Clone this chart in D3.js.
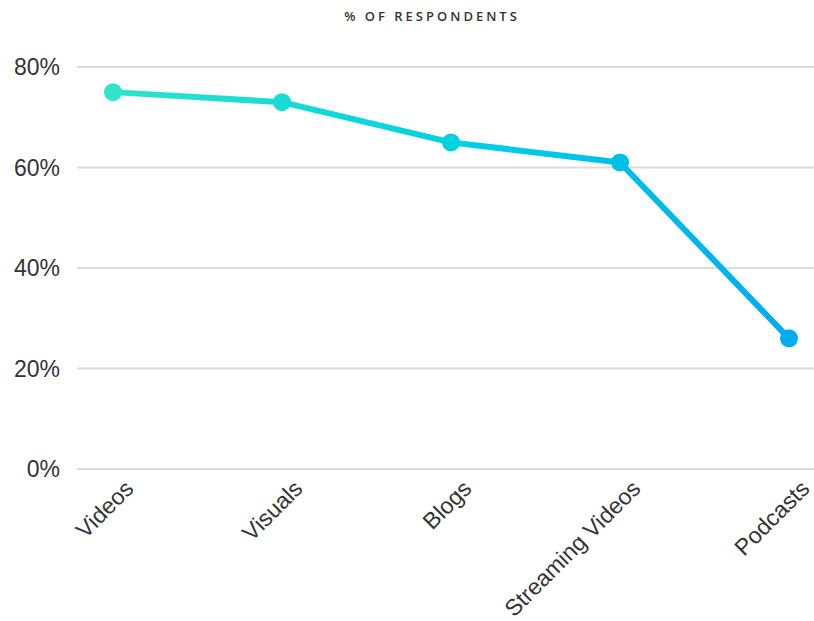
<!DOCTYPE html>
<html lang="en">
<head>
    <meta charset="UTF-8" />
    <title>% of respondents</title>
    <script src="https://d3js.org/d3.v7.min.js"></script>
    <style>
        body { margin: 0; background: #fff; }
        .title { font-family: "Open Sans", sans-serif; font-size: 13px; font-weight: 600; letter-spacing: 3px; fill: #333; }
        .tick-label { font-family: "Liberation Sans", Arial, sans-serif; font-size: 23px; fill: #333; }
    </style>
</head>
<body>
    <script>
        // data
        var categories = ["Videos", "Visuals", "Blogs", "Streaming Videos", "Podcasts"];
        var values = [75, 73, 65, 61, 26];
        var yTicks = [0, 20, 40, 60, 80];

        var w = 814;
        var h = 621;

        var svg = d3.select("body")
            .append("svg")
            .attr("width", w)
            .attr("height", h);

        var xScale = d3.scalePoint()
            .domain(categories)
            .range([113, 789]);

        var yScale = d3.scaleLinear()
            .domain([0, 80])
            .range([469, 67]);

        // colour runs from turquoise to blue across the categories
        var color = d3.scaleLinear()
            .domain([113, 451, 789])
            .range(["#30e3cb", "#00d2e2", "#00acf0"]);

        var defs = svg.append("defs");
        var grad = defs.append("linearGradient")
            .attr("id", "lineGrad")
            .attr("gradientUnits", "userSpaceOnUse")
            .attr("x1", 113).attr("x2", 789)
            .attr("y1", 0).attr("y2", 0);
        grad.append("stop").attr("offset", "0%").attr("stop-color", "#30e3cb");
        grad.append("stop").attr("offset", "50%").attr("stop-color", "#00d2e2");
        grad.append("stop").attr("offset", "100%").attr("stop-color", "#00acf0");

        // title
        svg.append("text")
            .attr("class", "title")
            .attr("x", 432)
            .attr("y", 21)
            .attr("text-anchor", "middle")
            .text("% OF RESPONDENTS");

        // gridlines
        svg.selectAll(".grid")
            .data(yTicks)
            .enter()
            .append("line")
            .attr("class", "grid")
            .attr("x1", 77)
            .attr("x2", w)
            .attr("y1", function (d) { return yScale(d); })
            .attr("y2", function (d) { return yScale(d); })
            .attr("stroke", "#dcdcdc")
            .attr("stroke-width", 2);

        // y labels
        svg.selectAll(".ylab")
            .data(yTicks)
            .enter()
            .append("text")
            .attr("class", "tick-label")
            .attr("x", 60)
            .attr("y", function (d) { return yScale(d); })
            .attr("dy", "0.35em")
            .attr("text-anchor", "end")
            .text(function (d) { return d + "%"; });

        // x labels, rotated
        svg.selectAll(".xlab")
            .data(categories)
            .enter()
            .append("text")
            .attr("class", "tick-label")
            .attr("text-anchor", "end")
            .attr("transform", function (d) {
                return "translate(" + (xScale(d) + 22) + ",490) rotate(-45)";
            })
            .text(function (d) { return d; });

        // line
        var pts = categories.map(function (c, i) { return { cat: c, val: values[i] }; });

        svg.append("path")
            .datum(pts)
            .attr("fill", "none")
            .attr("stroke", "url(#lineGrad)")
            .attr("stroke-width", 6)
            .attr("stroke-linejoin", "round")
            .attr("d", d3.line()
                .x(function (d) { return xScale(d.cat); })
                .y(function (d) { return yScale(d.val); })
            );

        svg.selectAll(".dot")
            .data(pts)
            .enter()
            .append("circle")
            .attr("class", "dot")
            .attr("cx", function (d) { return xScale(d.cat); })
            .attr("cy", function (d) { return yScale(d.val); })
            .attr("r", 9)
            .attr("fill", function (d) { return color(xScale(d.cat)); });
    </script>
</body>
</html>
